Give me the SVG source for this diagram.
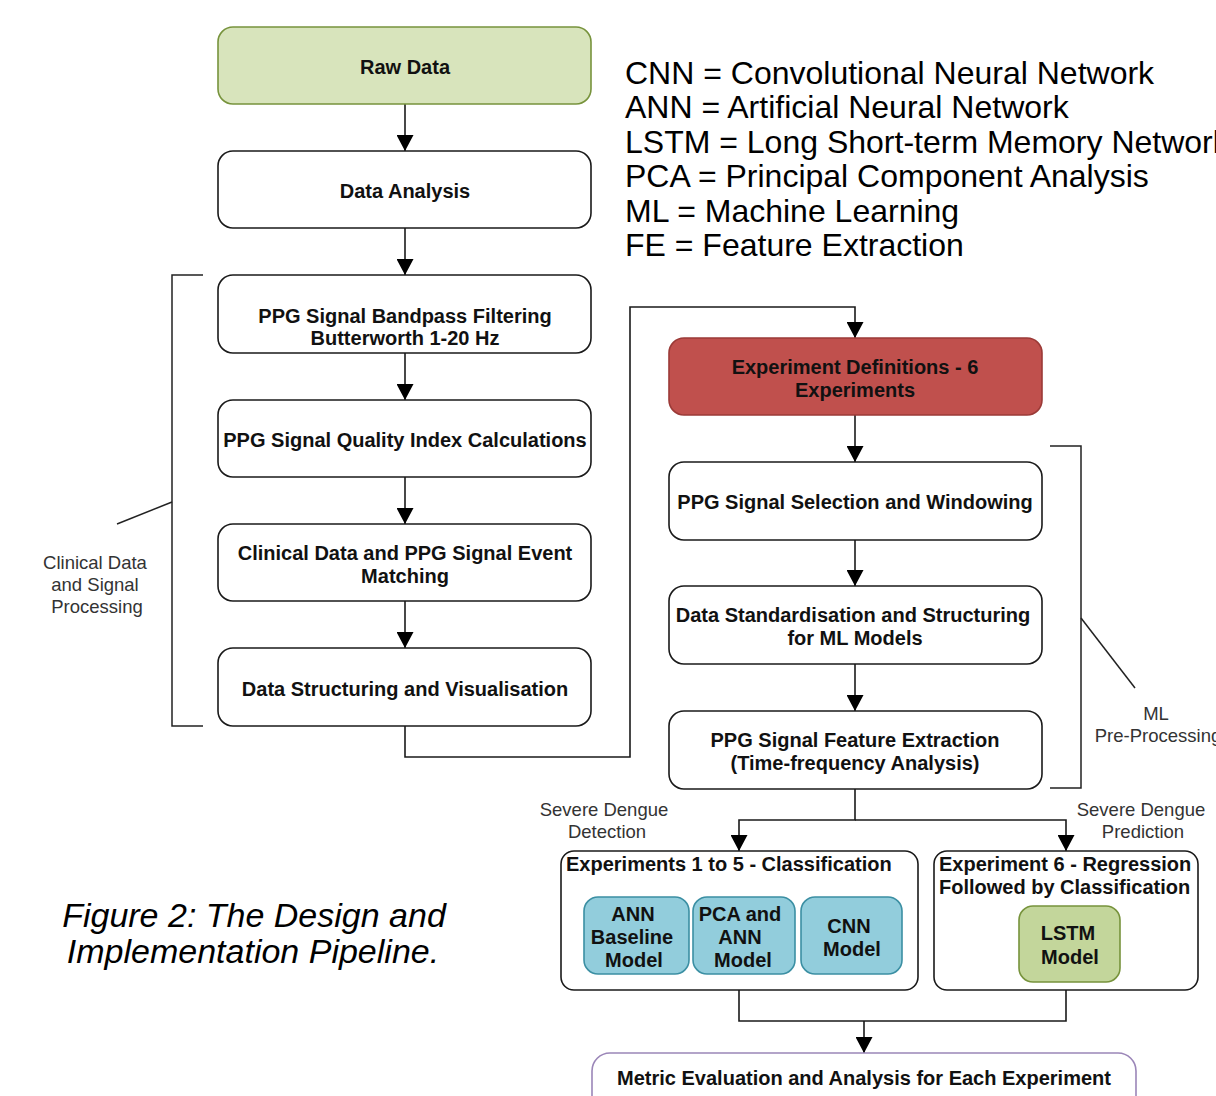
<svg xmlns="http://www.w3.org/2000/svg" width="1216" height="1096" viewBox="0 0 1216 1096">
<style>
.box{fill:#ffffff;stroke:#1a1a1a;stroke-width:1.6}
.t{font-family:"Liberation Sans",Arial,sans-serif;font-weight:bold;font-size:20px;fill:#111;text-anchor:middle}
.ts{font-family:"Liberation Sans",Arial,sans-serif;font-weight:bold;font-size:20px;fill:#111}
.lbl{font-family:"Liberation Sans",Arial,sans-serif;font-size:18.5px;fill:#333;text-anchor:middle}
.leg{font-family:"Liberation Sans",Arial,sans-serif;font-size:32px;fill:#000}
.cap{font-family:"Liberation Sans",Arial,sans-serif;font-style:italic;font-size:34px;fill:#000;text-anchor:middle}
.ln{fill:none;stroke:#1a1a1a;stroke-width:1.6}
.br{fill:none;stroke:#222;stroke-width:1.5}
.blue{fill:#92cddc;stroke:#3b8fa3;stroke-width:1.6}
</style>
<defs>
<marker id="arr" markerUnits="userSpaceOnUse" viewBox="0 0 16 17" markerWidth="16" markerHeight="17" refX="16" refY="8.5" orient="auto">
<path d="M0,0 L16,8.5 L0,17 z" fill="#000"/>
</marker>
</defs>

<g id="connectors">
<path class="ln" d="M405,104 V151" marker-end="url(#arr)"/>
<path class="ln" d="M405,228 V275" marker-end="url(#arr)"/>
<path class="ln" d="M405,353 V400" marker-end="url(#arr)"/>
<path class="ln" d="M405,477 V524" marker-end="url(#arr)"/>
<path class="ln" d="M405,601 V648" marker-end="url(#arr)"/>
<path class="ln" d="M405,726 V757 H630 V307 H855 V338" marker-end="url(#arr)"/>
<path class="ln" d="M855,415 V462" marker-end="url(#arr)"/>
<path class="ln" d="M855,540 V586" marker-end="url(#arr)"/>
<path class="ln" d="M855,664 V711" marker-end="url(#arr)"/>
<path class="ln" d="M855,789 V820 H739 V851" marker-end="url(#arr)"/>
<path class="ln" d="M855,820 H1066 V851" marker-end="url(#arr)"/>
<path class="ln" d="M739,990 V1021 H1066 V990"/>
<path class="ln" d="M864,1021 V1053" marker-end="url(#arr)"/>
</g>

<g id="bracket-left">
<path class="br" d="M203,275 H172 V726 H203"/>
<path class="br" d="M172,502 L117,524"/>
<text class="lbl" x="95" y="569">Clinical Data</text>
<text class="lbl" x="95" y="591">and Signal</text>
<text class="lbl" x="97" y="613">Processing</text>
</g>

<g id="bracket-right">
<path class="br" d="M1050,446 H1081 V788 H1050"/>
<path class="br" d="M1081,618 L1135,688"/>
<text class="lbl" x="1156" y="720">ML</text>
<text class="lbl" x="1158" y="742">Pre-Processing</text>
</g>

<g id="raw-data">
<rect x="218" y="27" width="373" height="77" rx="15" fill="#d8e4bc" stroke="#77933c" stroke-width="1.6"/>
<text class="t" x="405" y="74">Raw Data</text>
</g>
<g id="data-analysis">
<rect class="box" x="218" y="151" width="373" height="77" rx="15"/>
<text class="t" x="405" y="198">Data Analysis</text>
</g>
<g id="bandpass">
<rect class="box" x="218" y="275" width="373" height="78" rx="15"/>
<text class="t" x="405" y="323">PPG Signal Bandpass Filtering</text>
<text class="t" x="405" y="345">Butterworth 1-20 Hz</text>
</g>
<g id="quality">
<rect class="box" x="218" y="400" width="373" height="77" rx="15"/>
<text class="t" x="405" y="447">PPG Signal Quality Index Calculations</text>
</g>
<g id="event-matching">
<rect class="box" x="218" y="524" width="373" height="77" rx="15"/>
<text class="t" x="405" y="560">Clinical Data and PPG Signal Event</text>
<text class="t" x="405" y="583">Matching</text>
</g>
<g id="structuring">
<rect class="box" x="218" y="648" width="373" height="78" rx="15"/>
<text class="t" x="405" y="696">Data Structuring and Visualisation</text>
</g>

<g id="experiment-definitions">
<rect x="669" y="338" width="373" height="77" rx="15" fill="#c0504d" stroke="#9b3a37" stroke-width="1.6"/>
<text class="t" x="855" y="374">Experiment Definitions - 6</text>
<text class="t" x="855" y="397">Experiments</text>
</g>
<g id="selection">
<rect class="box" x="669" y="462" width="373" height="78" rx="15"/>
<text class="t" x="855" y="509">PPG Signal Selection and Windowing</text>
</g>
<g id="standardisation">
<rect class="box" x="669" y="586" width="373" height="78" rx="15"/>
<text class="t" x="853" y="622">Data Standardisation and Structuring</text>
<text class="t" x="855" y="645">for ML Models</text>
</g>
<g id="feature-extraction">
<rect class="box" x="669" y="711" width="373" height="78" rx="15"/>
<text class="t" x="855" y="747">PPG Signal Feature Extraction</text>
<text class="t" x="855" y="770">(Time-frequency Analysis)</text>
</g>

<g id="label-detection">
<text class="lbl" x="604" y="816">Severe Dengue</text>
<text class="lbl" x="607" y="838">Detection</text>
</g>
<g id="label-prediction">
<text class="lbl" x="1141" y="816">Severe Dengue</text>
<text class="lbl" x="1143" y="838">Prediction</text>
</g>

<g id="classification">
<rect class="box" x="561" y="851" width="357" height="139" rx="13"/>
<text class="ts" x="566" y="871">Experiments 1 to 5 - Classification</text>
</g>
<g id="ann-baseline">
<rect class="blue" x="584" y="897" width="105" height="77" rx="14"/>
<text class="t" x="633" y="921">ANN</text>
<text class="t" x="632" y="944">Baseline</text>
<text class="t" x="634" y="967">Model</text>
</g>
<g id="pca-ann">
<rect class="blue" x="693" y="897" width="102" height="77" rx="14"/>
<text class="t" x="740" y="921">PCA and</text>
<text class="t" x="740" y="944">ANN</text>
<text class="t" x="743" y="967">Model</text>
</g>
<g id="cnn">
<rect class="blue" x="801" y="897" width="101" height="77" rx="14"/>
<text class="t" x="849" y="933">CNN</text>
<text class="t" x="852" y="956">Model</text>
</g>

<g id="regression">
<rect class="box" x="934" y="851" width="264" height="139" rx="13"/>
<text class="ts" x="939" y="871">Experiment 6 - Regression</text>
<text class="ts" x="939" y="894">Followed by Classification</text>
</g>
<g id="lstm">
<rect x="1019" y="906" width="101" height="76" rx="14" fill="#c3d69b" stroke="#77933c" stroke-width="1.6"/>
<text class="t" x="1068" y="940">LSTM</text>
<text class="t" x="1070" y="964">Model</text>
</g>

<g id="metric-evaluation">
<rect x="592" y="1053" width="544" height="70" rx="18" fill="#ffffff" stroke="#9b86b8" stroke-width="1.6"/>
<text class="t" x="864" y="1085">Metric Evaluation and Analysis for Each Experiment</text>
</g>

<g id="legend">
<text class="leg" x="625" y="84">CNN = Convolutional Neural Network</text>
<text class="leg" x="625" y="118">ANN = Artificial Neural Network</text>
<text class="leg" x="625" y="153">LSTM = Long Short-term Memory Network</text>
<text class="leg" x="625" y="187">PCA = Principal Component Analysis</text>
<text class="leg" x="625" y="222">ML = Machine Learning</text>
<text class="leg" x="625" y="256">FE = Feature Extraction</text>
</g>

<g id="caption">
<text class="cap" x="254" y="927">Figure 2: The Design and</text>
<text class="cap" x="253" y="963">Implementation Pipeline.</text>
</g>
</svg>
